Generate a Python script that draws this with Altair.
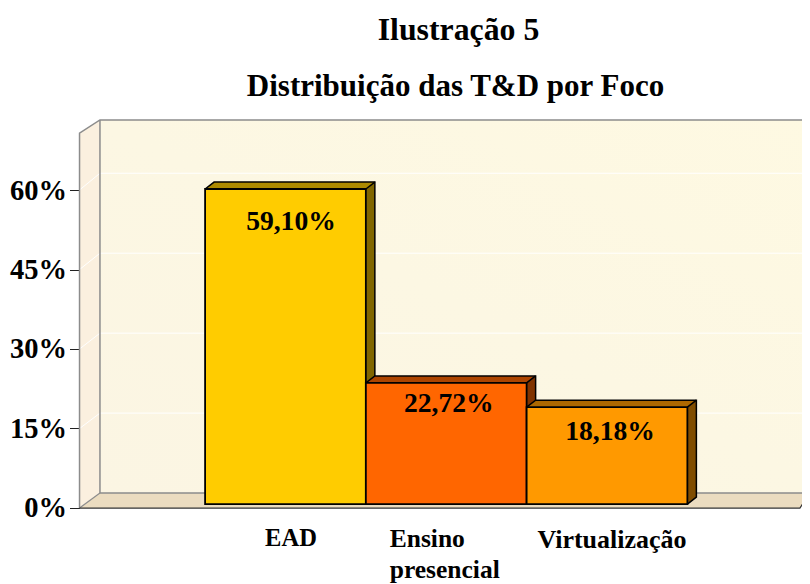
import altair as alt
import pandas as pd

# Data
categories = ["EAD", "Ensino\npresencial", "Virtualização"]
values = [59.10, 22.72, 18.18]
value_labels = ["59,10%", "22,72%", "18,18%"]
face_colors = ["#FFCC00", "#FF6600", "#FF9900"]
top_colors = ["#AD8A00", "#AD4500", "#AD6800"]
side_colors = ["#806600", "#803300", "#804D00"]
axis_ticks = [0, 15, 30, 45, 60]
grid_levels = [15, 30, 45, 60]

# Scale domains and 3-D frame, in data units
XDOM = [-1.726, 3.213]
YDOM = [-15.0, 93.06]
AXDOM = [-14.34, 94.34]
DX, DY = 0.056, 1.31
WL_F, WL_B, WR_F, WR_B = -1.281, -1.154, 3.2, 3.262
FL_F, FL_B, TOP_F, TOP_B = -0.75, 2.06, 69.6, 72.05

W, H = 794, 576
xs = alt.Scale(domain=XDOM, nice=False, zero=False)
ys = alt.Scale(domain=YDOM, nice=False, zero=False)
SERIF = "Liberation Serif"


def X(field="x"):
    return alt.X(f"{field}:Q", scale=xs, axis=None)


def Y(field="y"):
    return alt.Y(f"{field}:Q", scale=ys, axis=None)


def area(rows, color, **kw):
    df = pd.DataFrame(rows, columns=["x", "y", "y2"])
    return alt.Chart(df).mark_area(color=color, interpolate="linear", **kw).encode(
        x=X(), y=Y(), y2=alt.Y2("y2:Q"))


def path(pts, color, width):
    df = pd.DataFrame(pts, columns=["x", "y"]).reset_index()
    return alt.Chart(df).mark_line(color=color, strokeWidth=width, interpolate="linear").encode(
        x=X(), y=Y(), order="index:Q")


layers = []

# Back wall
wall = pd.DataFrame([{"x": WL_B, "x2": WR_B + 0.1, "y": FL_B, "y2": TOP_B}])
layers.append(alt.Chart(wall).mark_rect(
    color=alt.Gradient(gradient="linear", x1=0, y1=1, x2=1, y2=0,
                       stops=[alt.GradientStop(offset=0, color="#FBF5E3"),
                              alt.GradientStop(offset=0.5, color="#FCF7E3"),
                              alt.GradientStop(offset=1, color="#FEF9E2")])
).encode(x=X(), x2="x2:Q", y=Y(), y2="y2:Q"))

# Left wall and floor
layers.append(area([[WL_F, FL_F, TOP_F], [WL_B, FL_B, TOP_B]], "#FBF0DF"))
layers.append(area([[WL_F, FL_F, FL_F], [WL_B, FL_F, FL_B], [WR_F, FL_F, FL_B],
                    [WR_B, FL_B, FL_B]], "#EBDCC0"))

# Gridlines: white on the wall, slanting across the left wall
for g in grid_levels:
    layers.append(path([[WL_F, FL_F + g * 0.9944], [WL_B, FL_B + g], [WR_B + 0.1, FL_B + g]],
                       "#FFFFFF", 1))

# Frame lines
GRAY = "#8C8C8C"
layers.append(path([[WL_F, FL_F], [WL_F, TOP_F], [WL_B, TOP_B], [WR_B + 0.1, TOP_B]], GRAY, 1.5))
layers.append(path([[WL_B, TOP_B], [WL_B, FL_B], [WR_B + 0.1, FL_B]], GRAY, 1.5))
layers.append(path([[WL_F, FL_F], [WL_B, FL_B]], GRAY, 1.2))
layers.append(path([[WL_F, FL_F], [WR_F, FL_F], [WR_B, FL_B]], "#333333", 1.2))

# Bars, back to front
for i, v in enumerate(values):
    l, r = i - 0.5, i + 0.5
    layers.append(area([[r, 0, v], [r + DX, DY, v + DY]], side_colors[i]))
    layers.append(area([[l, v, v], [l + DX, v, v + DY], [r, v, v + DY], [r + DX, v + DY, v + DY]],
                       top_colors[i]))
    layers.append(path([[l, v], [l + DX, v + DY], [r + DX, v + DY], [r + DX, DY], [r, 0]],
                       "#000000", 1.5))
    layers.append(path([[r, v], [r + DX, v + DY]], "#000000", 1.5))
    front = pd.DataFrame([{"x": l, "x2": r, "y": 0, "y2": v}])
    layers.append(alt.Chart(front).mark_rect(
        color=face_colors[i], stroke="#000000", strokeWidth=1.8
    ).encode(x=X(), x2="x2:Q", y=Y(), y2="y2:Q"))

# Value labels
label_off = [(5.5, 33), (2.5, 21), (3, 25)]
for i, v in enumerate(values):
    df = pd.DataFrame([{"x": i, "y": v, "t": value_labels[i]}])
    layers.append(alt.Chart(df).mark_text(
        font=SERIF, fontWeight="bold", fontSize=27.6, color="#000000", baseline="middle",
        dx=label_off[i][0], dy=label_off[i][1]
    ).encode(x=X(), y=Y(), text="t:N"))

# Category labels
cat_off = [(5.5, 38, "center", 24.5), (-56.5, 39, "left", 25.5), (5, 40, "center", 26)]
for i, c in enumerate(categories):
    df = pd.DataFrame([{"x": i, "y": FL_F, "t": c}])
    layers.append(alt.Chart(df).mark_text(
        font=SERIF, fontWeight="bold", fontSize=cat_off[i][3], color="#000000",
        baseline="alphabetic", align=cat_off[i][2], dx=cat_off[i][0], dy=cat_off[i][1],
        lineBreak="\n", lineHeight=31
    ).encode(x=X(), y=Y(), text="t:N"))

# Titles
for t, cx, by, fs in [("Ilustração 5", 450.5, 32, 31.8), ("Distribuição das T&D por Foco", 447.5, 88, 31)]:
    layers.append(alt.Chart(pd.DataFrame([{"t": t}])).mark_text(
        font=SERIF, fontWeight="bold", fontSize=fs, color="#000000", baseline="alphabetic"
    ).encode(x=alt.value(cx), y=alt.value(by), text="t:N"))

inner = alt.layer(*layers)

# Front value axis, on its own scale
axis_df = pd.DataFrame({"v": axis_ticks})
axis_layer = alt.Chart(axis_df).mark_tick(opacity=0).encode(
    y=alt.Y("v:Q",
            scale=alt.Scale(domain=AXDOM, nice=False, zero=False),
            axis=alt.Axis(orient="left", offset=-71.5, values=axis_ticks, title=None, grid=False,
                          domain=False, tickColor="#222222", tickSize=10, tickWidth=1,
                          labelFont=SERIF, labelFontWeight="bold", labelFontSize=28.5,
                          labelColor="#000000", labelPadding=3,
                          labelExpr="datum.value + '%'"))
)

chart = alt.layer(inner, axis_layer).resolve_scale(y="independent").properties(
    width=W, height=H, padding=0, autosize=alt.AutoSizeParams(type="none"),
    background="#FFFFFF"
).configure_view(stroke=None)

chart.save("out.html", embed_options={"renderer": "svg", "actions": False})
